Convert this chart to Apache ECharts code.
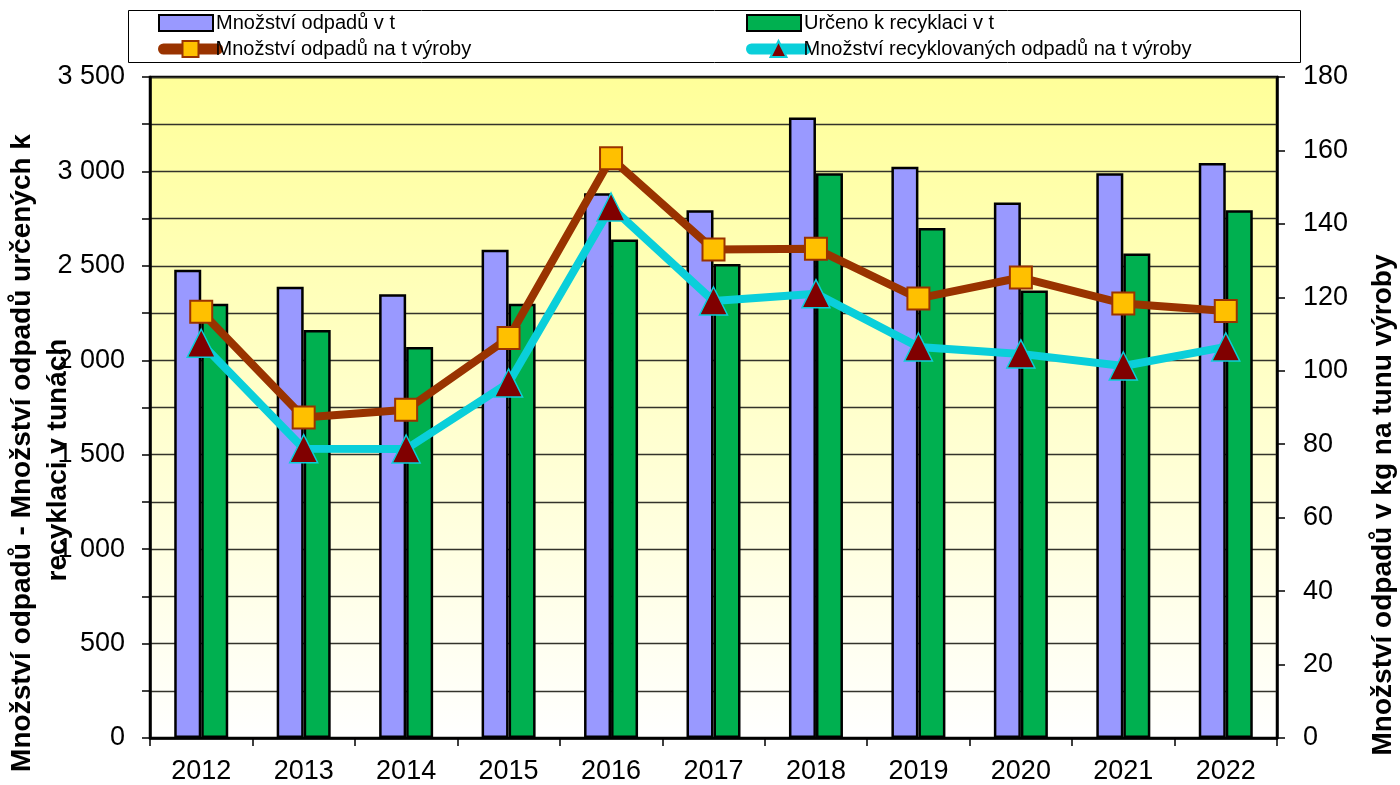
<!DOCTYPE html>
<html>
<head>
<meta charset="utf-8">
<script src="https://cdn.jsdelivr.net/npm/echarts@6/dist/echarts.min.js"></script>
<style>
html,body{margin:0;padding:0;background:#fff;}
#chart{width:1400px;height:785px;}
</style>
</head>
<body>
<div id="chart"></div>
<script>
const categories = ['2012','2013','2014','2015','2016','2017','2018','2019','2020','2021','2022'];
const wasteTonnes = [2480, 2390, 2350, 2585, 2885, 2795, 3285, 3025, 2835, 2990, 3045];
const recycledTonnes = [2300, 2160, 2070, 2300, 2640, 2510, 2990, 2700, 2370, 2565, 2795];
const wastePerTonne = [116.1, 87.3, 89.4, 108.9, 157.9, 133.0, 133.2, 119.7, 125.4, 118.3, 116.3];
const recycledPerTonne = [107.5, 78.8, 78.7, 96.7, 144.6, 119.0, 121.0, 106.5, 104.6, 101.3, 106.5];

const seriesNames = ['Množství odpadů v t','Určeno k recyklaci v t','Množství odpadů na t výroby','Množství recyklovaných odpadů na t výroby'];
const leftAxisTitle = ['Množství odpadů - Množství odpadů určených k','recyklaci v tunách'];
const rightAxisTitle = 'Množství odpadů v kg na tunu výroby';

const FONT = '"Liberation Sans", Arial, sans-serif';

function fmtThousands(v){
  return String(v).replace(/\B(?=(\d{3})+(?!\d))/g, ' ');
}

const chart = echarts.init(document.getElementById('chart'), null, {renderer:'canvas'});

const legendCommon = {
  orient:'horizontal', padding:0, itemWidth:54, itemHeight:16, itemGap:0,
  textStyle:{fontFamily:FONT, fontSize:20, color:'#000', padding:[0,0,0,-2]},
  selectedMode:false
};
const lineLegendText = {fontFamily:FONT, fontSize:20, color:'#000', padding:[0,0,0,-7]};

chart.setOption({
  backgroundColor:'#fff',
  animation:false,
  graphic:[
    {type:'rect', z:0, shape:{x:128.5, y:10.5, width:1172, height:52}, style:{fill:'#fff', stroke:'#000', lineWidth:1}},
    {type:'text', z:5, x:22, y:453, rotation:Math.PI/2,
      style:{text:leftAxisTitle[0], font:'bold 28px ' + FONT, fill:'#000', textAlign:'center', textVerticalAlign:'middle'}},
    {type:'text', z:5, x:58, y:460, rotation:Math.PI/2,
      style:{text:leftAxisTitle[1], font:'bold 28px ' + FONT, fill:'#000', textAlign:'center', textVerticalAlign:'middle'}},
    {type:'text', z:5, x:1383, y:505, rotation:Math.PI/2,
      style:{text:rightAxisTitle, font:'bold 28px ' + FONT, fill:'#000', textAlign:'center', textVerticalAlign:'middle'}}
  ],
  legend:[
    Object.assign({}, legendCommon, {left:158, top:13, data:[seriesNames[0]], icon:'rect'}),
    Object.assign({}, legendCommon, {left:746, top:13, data:[seriesNames[1]], icon:'rect'}),
    Object.assign({}, legendCommon, {left:158, top:39, data:[seriesNames[2]], itemHeight:20,
      lineStyle:{width:11, cap:'round'}, textStyle:lineLegendText}),
    Object.assign({}, legendCommon, {left:746, top:39, data:[seriesNames[3]], itemHeight:20,
      lineStyle:{width:11, cap:'round'}, textStyle:lineLegendText})
  ],
  grid:{
    left:150, right:123, top:77, bottom:47,
    show:true,
    borderColor:'#000', borderWidth:2.5,
    backgroundColor:{type:'linear', x:0, y:0, x2:0, y2:1,
      colorStops:[{offset:0, color:'#FFFF99'},{offset:1, color:'#FFFFFF'}]}
  },
  xAxis:{
    type:'category', data:categories, boundaryGap:true,
    axisLine:{lineStyle:{color:'#000', width:2.5}},
    axisTick:{show:true, length:8, lineStyle:{color:'#000', width:1.5}},
    axisLabel:{fontFamily:FONT, fontSize:27, color:'#000', margin:20},
    splitLine:{show:false}
  },
  yAxis:[
    {
      type:'value', min:0, max:3500, interval:250, position:'left',
      axisLine:{show:true, lineStyle:{color:'#000', width:2.5}},
      axisTick:{show:true, length:8, lineStyle:{color:'#000', width:1.5}},
      axisLabel:{fontFamily:FONT, fontSize:27, color:'#000', margin:25,
        formatter:function(v){ return v % 500 === 0 ? fmtThousands(v) : ''; }},
      splitLine:{show:true, lineStyle:{color:'#33332a', width:1.3}}
    },
    {
      type:'value', min:0, max:180, interval:20, position:'right',
      axisLine:{show:true, lineStyle:{color:'#000', width:2.5}},
      axisTick:{show:true, length:8, lineStyle:{color:'#000', width:1.5}},
      axisLabel:{fontFamily:FONT, fontSize:27, color:'#000', margin:26},
      splitLine:{show:false}
    }
  ],
  series:[
    {
      name:seriesNames[0], type:'bar', yAxisIndex:0, data:wasteTonnes,
      barWidth:27, barGap:'0%',
      itemStyle:{color:'#9999FF', borderColor:'#000', borderWidth:2.5}
    },
    {
      name:seriesNames[1], type:'bar', yAxisIndex:0, data:recycledTonnes,
      barWidth:27, barGap:'0%',
      itemStyle:{color:'#00B050', borderColor:'#000', borderWidth:2.5}
    },
    {
      name:seriesNames[3], type:'line', yAxisIndex:1, data:recycledPerTonne,
      lineStyle:{color:'#0ACFDA', width:8},
      symbol:'triangle', symbolSize:[28,28],
      itemStyle:{color:'#800000', borderColor:'#0ACFDA', borderWidth:1.5},
      z:3
    },
    {
      name:seriesNames[2], type:'line', yAxisIndex:1, data:wastePerTonne,
      lineStyle:{color:'#993300', width:8},
      symbol:'rect', symbolSize:22,
      itemStyle:{color:'#FFC000', borderColor:'#993300', borderWidth:2},
      z:4
    }
  ]
});
</script>
</body>
</html>
